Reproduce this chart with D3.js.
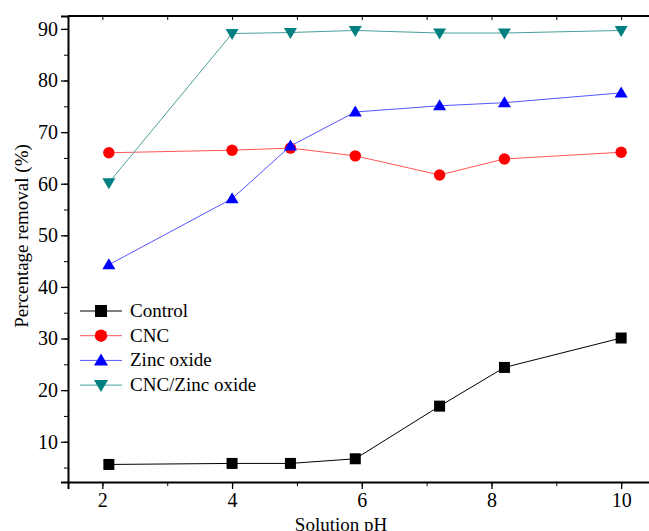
<!DOCTYPE html>
<html>
<head>
  <script src="https://cdnjs.cloudflare.com/ajax/libs/d3/7.8.5/d3.min.js"></script>
  <style>
    body { margin: 0; background: #fff; }
  </style>
</head>
<body>
<svg width="649" height="531"></svg>
<script>
// pH values
var phValues = [2.1, 4, 4.9, 5.9, 7.2, 8.2, 10];
var seriesNames = ["Control", "CNC", "Zinc oxide", "CNC/Zinc oxide"];
var controlValues = [5.6, 5.8, 5.8, 6.7, 16.9, 24.4, 30.1];
var cncValues = [66.0, 66.5, 66.9, 65.4, 61.7, 64.8, 66.1];
var zincValues = [44.3, 57.1, 67.3, 73.9, 75.1, 75.7, 77.6];
var cncZincValues = [60.2, 89.1, 89.3, 89.7, 89.2, 89.2, 89.7];
var xTicks = [2, 4, 6, 8, 10];
var yTicks = [10, 20, 30, 40, 50, 60, 70, 80, 90];

var FONT = "'Liberation Serif', 'Times New Roman', Times, serif";

var series = [
  {name: seriesNames[0], values: controlValues, line: "#000", fill: "#000", symbol: "square"},
  {name: seriesNames[1], values: cncValues, line: "#ff5555", fill: "#ff0000", symbol: "circle"},
  {name: seriesNames[2], values: zincValues, line: "#5555ff", fill: "#0000ff", symbol: "up"},
  {name: seriesNames[3], values: cncZincValues, line: "#46a09a", fill: "#008080", symbol: "down"}
];

var svg = d3.select("svg"),
    margin = {top: 16, right: -2, bottom: 49, left: 68},
    width = +svg.attr("width") - margin.left - margin.right,
    height = +svg.attr("height") - margin.top - margin.bottom,
    g = svg.append("g").attr("transform", "translate(" + margin.left + "," + margin.top + ")");

var x = d3.scaleLinear().domain([1.47, 10.46]).range([0, width]);
var y = d3.scaleLinear().domain([2.2, 92.5]).range([height, 0]);

// minor ticks
g.append("g")
    .attr("transform", "translate(0," + height + ")")
    .call(d3.axisBottom(x).tickValues(d3.range(2, 11, 1)).tickSize(4).tickFormat(""))
    .call(function(s) { s.select(".domain").remove(); });
g.append("g")
    .call(d3.axisLeft(y).tickValues(d3.range(5, 91, 5)).tickSize(4).tickFormat(""))
    .call(function(s) { s.select(".domain").remove(); });
g.append("g")
    .call(d3.axisBottom(x).tickValues(d3.range(2, 11, 1)).tickSize(4).tickFormat(""))
    .call(function(s) { s.select(".domain").remove(); });

// major axes
var xAxis = g.append("g")
    .attr("transform", "translate(0," + height + ")")
    .call(d3.axisBottom(x).tickValues(xTicks).tickSize(7).tickPadding(4));
var yAxis = g.append("g")
    .call(d3.axisLeft(y).tickValues(yTicks).tickSize(7).tickPadding(3));

[xAxis, yAxis].forEach(function(a) {
  a.attr("font-family", FONT).attr("font-size", 20);
  a.selectAll("text").attr("fill", "#000");
  a.selectAll("line").attr("stroke-width", 1.3);
  a.select(".domain").attr("stroke-width", 2);
});

// top frame line
g.append("line")
    .attr("x1", 0).attr("x2", width + 5)
    .attr("y1", 0).attr("y2", 0)
    .attr("stroke", "#000").attr("stroke-width", 2);

function symbolPath(type, size) {
  var s = size / 2;
  if (type === "square") return "M" + -s + "," + -s + "H" + s + "V" + s + "H" + -s + "Z";
  if (type === "up") return "M0," + (-s - 1) + "L" + (s + 1) + "," + (s - 1) + "H" + (-s - 1) + "Z";
  if (type === "down") return "M0," + (s + 1) + "L" + (s + 1) + "," + (-s + 1) + "H" + (-s - 1) + "Z";
  return d3.symbol(d3.symbolCircle, size * size * 0.85)();
}

var line = d3.line()
    .x(function(d, i) { return x(phValues[i]); })
    .y(function(d) { return y(d); });

series.forEach(function(s) {
  g.append("path")
      .datum(s.values)
      .attr("d", line)
      .attr("fill", "none")
      .attr("stroke", s.line)
      .attr("stroke-width", 1);
  g.selectAll(null)
      .data(s.values)
    .enter().append("path")
      .attr("transform", function(d, i) { return "translate(" + x(phValues[i]) + "," + y(d) + ")"; })
      .attr("d", symbolPath(s.symbol, 11))
      .attr("fill", s.fill);
});

// legend
var legend = g.append("g").attr("transform", "translate(12,295)");
series.forEach(function(s, i) {
  var row = legend.append("g").attr("transform", "translate(0," + (i * 24.7) + ")");
  row.append("line").attr("x1", 0).attr("x2", 42).attr("stroke", s.line).attr("stroke-width", 1);
  row.append("path").attr("transform", "translate(21,0)").attr("d", symbolPath(s.symbol, 12)).attr("fill", s.fill);
  row.append("text").attr("x", 50).attr("y", 6)
      .attr("font-family", FONT).attr("font-size", 19).text(s.name);
});

// axis titles
svg.append("text")
    .attr("x", 341)
    .attr("y", 531)
    .attr("text-anchor", "middle")
    .attr("font-family", FONT).attr("font-size", 19)
    .text("Solution pH");
svg.append("text")
    .attr("transform", "translate(28,236) rotate(-90)")
    .attr("text-anchor", "middle")
    .attr("font-family", FONT).attr("font-size", 19)
    .text("Percentage removal (%)");
</script>
</body>
</html>
